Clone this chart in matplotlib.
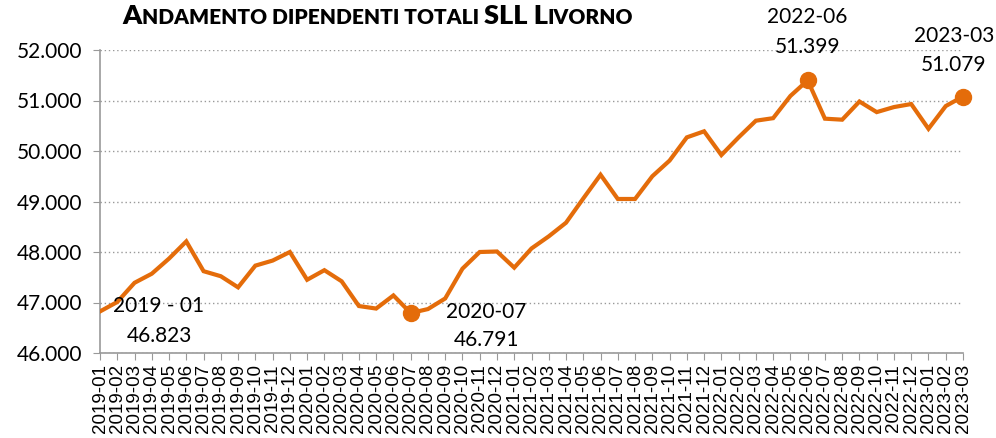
import matplotlib.pyplot as plt
import numpy as np
import pandas as pd

# monthly employees, SLL Livorno
months = pd.date_range('2019-01', '2023-03', freq='MS').strftime('%Y-%m').tolist()
employees = [
    46823, 47010, 47390, 47570, 47870, 48210, 47620, 47520, 47300, 47730, 47830, 48000,
    47450, 47640, 47420, 46930, 46880, 47140, 46791, 46870, 47080, 47670, 48000, 48010,
    47690, 48070, 48310, 48580, 49060, 49530, 49050, 49050, 49500, 49810, 50270, 50390,
    49920, 50270, 50600, 50650, 51090, 51399, 50640, 50620, 50980, 50770, 50870, 50930,
    50440, 50890, 51079,
]
highlight = ['2020-07', '2022-06', '2023-03']
yticks = [46000, 47000, 48000, 49000, 50000, 51000, 52000]

ORANGE = '#E46C0A'
LABEL_FONT = 'Lato'

def fmt_it(v):
    return f'{v:,.0f}'.replace(',', '.')

fig = plt.figure(figsize=(9.96, 4.38), dpi=100)
ax = fig.add_axes([100/996, 1 - 353/438, 863/996, 303/438])

x = np.arange(len(months))
ax.plot(x, employees, color=ORANGE, linewidth=3, solid_joinstyle='miter', zorder=3)

hi_idx = [months.index(m) for m in highlight]
ax.plot(hi_idx, [employees[i] for i in hi_idx], 'o', color=ORANGE,
        markersize=11.5, zorder=4, clip_on=False)

ax.set_xlim(0, len(months) - 1)
ax.set_ylim(46000, 52000)
ax.set_yticks(yticks)
ax.set_yticklabels([fmt_it(v) for v in yticks], fontsize=15, family=LABEL_FONT)
ax.set_xticks(x)
ax.set_xticklabels(months, rotation=90, fontsize=13.5, family='Liberation Sans')
ax.tick_params(axis='x', length=5, color='#999999', pad=3)
ax.tick_params(axis='y', length=5, color='#999999', pad=8)

ax.grid(axis='y', linestyle=(0, (1, 2)), color='#999999', linewidth=1)
ax.set_axisbelow(True)
for s in ['top', 'right']:
    ax.spines[s].set_visible(False)
for s in ['left', 'bottom']:
    ax.spines[s].set_color('#999999')
    ax.spines[s].set_linewidth(1.2)

# callouts: (index, first line, dx, dy line1, dy line2) in pixels
callouts = [
    (0, '2019 - 01', 59, 5, -25),
    (months.index('2020-07'), '2020-07', 76, 1, -27),
    (months.index('2022-06'), '2022-06', 0, 63, 33),
    (months.index('2023-03'), '2023-03', -9, 61, 32),
]
for i, head, dx, dy1, dy2 in callouts:
    for txt, dy in [(head, dy1), (fmt_it(employees[i]), dy2)]:
        ax.annotate(txt, (i, employees[i]), xytext=(dx, dy), textcoords='offset pixels',
                    ha='center', va='center', fontsize=15, family=LABEL_FONT,
                    annotation_clip=False)

# small caps title built from pieces
pieces = [('A', 19.5), ('NDAMENTO DIPENDENTI TOTALI ', 15), ('SLL L', 19.5), ('IVORNO', 15)]
fig.canvas.draw()
renderer = fig.canvas.get_renderer()
texts = []
for s, size in pieces:
    t = fig.text(0, 1 - 23.5/438, s, fontsize=size, fontweight='heavy', family=LABEL_FONT,
                 ha='left', va='baseline')
    texts.append(t)
widths = [t.get_window_extent(renderer).width for t in texts]
total = sum(widths)
x0 = 378 - total / 2
for t, w in zip(texts, widths):
    t.set_x(x0 / 996)
    x0 += w

fig.savefig('out.png', dpi=100)
